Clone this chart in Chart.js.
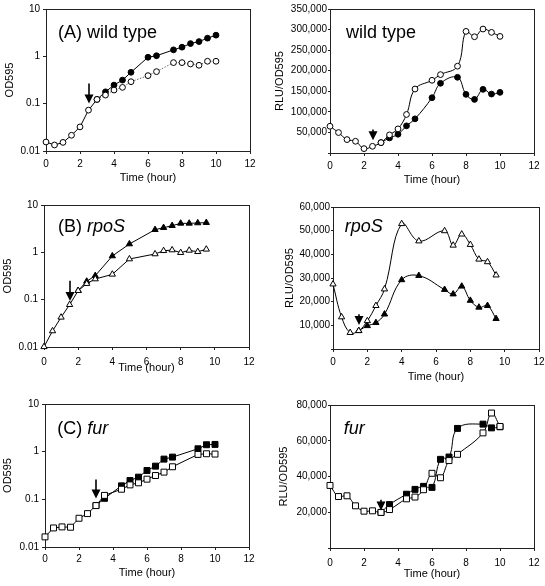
<!DOCTYPE html>
<html><head><meta charset="utf-8">
<script src="https://cdn.jsdelivr.net/npm/chart.js@4.4.0/dist/chart.umd.min.js"></script>
<style>
html,body{margin:0;padding:0;background:#fff;overflow:hidden;width:545px;height:586px;position:relative;}
canvas{position:absolute;}
</style></head><body>
<canvas id="cAL"></canvas><canvas id="cAR"></canvas>
<canvas id="cBL"></canvas><canvas id="cBR"></canvas>
<canvas id="cCL"></canvas><canvas id="cCR"></canvas>
<script>
// ---------- data ----------
// (A) wild type, OD595
const timeA_open = [0,0.5,1,1.5,2,2.5,3,3.5,4,4.5,5,6,6.5,7.5,8,8.5,9,9.5,10];
const odA_open   = [0.0155,0.0134,0.0152,0.0215,0.0323,0.073,0.123,0.152,0.194,0.221,0.291,0.391,0.475,0.737,0.737,0.69,0.647,0.787,0.787];
const timeA_fill = [3,3.5,4,4.5,5,6,6.5,7.5,8,8.5,9,9.5,10];
const odA_fill   = [0.123,0.178,0.247,0.315,0.46,0.957,1.03,1.37,1.56,1.86,2.05,2.42,2.8];
// wild type, RLU/OD595
const timeAR_open = [0,0.5,1,1.5,2,2.5,3,3.5,4,4.5,5,6,6.5,7.5,8,8.5,9,9.5,10];
const rluA_open   = [65000,49700,32600,28500,10600,16300,25200,44000,58600,93600,155500,176700,190500,211000,295600,282600,301300,293200,283400];
const timeAR_fill = [3,3.5,4,4.5,5,6,6.5,7.5,8,8.5,9,9.5,10];
const rluA_fill   = [25200,36600,45600,66000,83000,134400,169400,184000,142500,130300,154700,143300,147400];
// (B) rpoS, OD595
const timeB_open = [0,0.5,1,1.5,2,2.5,3,4,5,6.5,7,7.5,8,8.5,9,9.5];
const odB_open   = [0.0101,0.0218,0.0424,0.0784,0.155,0.218,0.273,0.343,0.723,0.923,1.08,1.12,0.984,1.1,1.03,1.16];
const timeB_fill = [2,2.5,3,4,5,6.5,7,7.5,8,8.5,9,9.5];
const odB_fill   = [0.155,0.244,0.321,0.837,1.5,3.01,3.32,3.66,4.1,4.1,4.17,4.24];
// rpoS, RLU/OD595
const timeBR_open = [0,0.5,1,1.5,2,2.5,3,4,5,6.5,7,7.5,8,8.5,9,9.5];
const rluB_open   = [27400,13500,6900,7700,11900,18300,25300,52900,45600,49900,43800,48500,44100,37900,36800,31200];
const timeBR_fill = [1.5,2,2.5,3,4,5,6.5,7,7.5,8,8.5,9,9.5];
const rluB_fill   = [7700,9800,11100,14700,29200,31000,25100,23200,26500,20500,17600,18300,12800];
// (C) fur, OD595
const timeC_open = [0,0.5,1,1.5,2,2.5,3,3.5,4.5,5,5.5,6,6.5,7,7.5,9,9.5,10];
const odC_open   = [0.0163,0.0251,0.0264,0.026,0.0401,0.0502,0.074,0.121,0.163,0.201,0.222,0.265,0.316,0.372,0.482,0.875,0.904,0.89];
const timeC_fill = [3,3.5,4.5,5,5.5,6,6.5,7,7.5,9,9.5,10];
const odC_fill   = [0.074,0.105,0.192,0.248,0.292,0.403,0.497,0.698,0.769,1.15,1.397,1.42];
// fur, RLU/OD595
const timeCR_open = [0,0.5,1,1.5,2,2.5,3,3.5,4.5,5,5.5,6,6.5,7,7.5,9,9.5,10];
const rluC_open   = [35000,28800,29200,23600,20600,20800,19900,21500,27500,28500,32600,41800,39300,48900,52400,64400,75500,68000];
const timeCR_fill = [3,3.5,4.5,5,5.5,6,6.5,7,7.5,9,9.5,10];
const rluC_fill   = [19900,24300,30100,32800,34500,33900,49600,50900,66900,69300,67200,67800];
// arrows (time of addition), order: AL, AR, BL, BR, CL, CR
const arrowTime = [2.5, 2.5, 1.5, 1.5, 3, 3];
const arrowTop  = [0.268, 57000, 0.252, 14700, 0.261, 27000];
const arrowTip  = [0.101, 31000, 0.094, 10100, 0.104, 21000];
// axis ticks
const timeTicks = [0, 12, 2];
const odRange = [0.01, 10];
const rluMaxA = 350000, rluStepA = 50000;
const rluMaxB = 60000,  rluStepB = 10000;
const rluMaxC = 80000,  rluStepC = 20000;

// ---------- drawing ----------
const FONT = '"Liberation Sans", Arial, Helvetica, sans-serif';
const INK = '#222';
function pts(xs, ys){ return xs.map((x,i)=>({x:x, y:ys[i]})); }

function makePanel(cfg){
  const cv = document.getElementById(cfg.id);
  cv.width = cfg.box.w; cv.height = cfg.box.h;
  cv.style.left = cfg.box.x + 'px'; cv.style.top = cfg.box.y + 'px';
  const L = cfg.area.l - cfg.box.x, T = cfg.area.t - cfg.box.y,
        R = cfg.area.r - cfg.box.x, B = cfg.area.b - cfg.box.y;
  const isLog = cfg.log;
  const yScale = isLog ? {
    type:'logarithmic', min: odRange[0], max: odRange[1],
    afterBuildTicks: s => { s.ticks = s.ticks.filter(t => { const l = Math.log10(t.value); return Math.abs(l - Math.round(l)) < 1e-6; }); },
    ticks:{ color:'#000', font:{family:FONT,size:10}, padding:3, autoSkip:false,
      callback: v => { const n = Number(Number(v).toPrecision(1)); return String(n); } },
  } : {
    type:'linear', min:0, max: cfg.ymax,
    ticks:{ stepSize: cfg.ystep, color:'#000', font:{family:FONT,size:10}, padding:1, autoSkip:false,
      callback: v => v === 0 ? '' : Number(v).toLocaleString('en-US') },
  };
  yScale.position = 'left';
  yScale.grid = { drawOnChartArea:false, drawTicks:true, tickLength: isLog ? 3 : 2, color: INK };
  yScale.border = { color: INK, width: 1 };
  yScale.title = { display:true, text: cfg.ytitle, color:'#000', font:{family:FONT,size:11}, padding:{top:cfg.ytPad, bottom:0} };
  yScale.afterFit = s => { s.width = L; s.paddingTop = 0; s.paddingBottom = 0; };

  const xScale = {
    type:'linear', position:'bottom', min: timeTicks[0], max: timeTicks[1],
    ticks:{ stepSize: timeTicks[2], color:'#000', font:{family:FONT,size:10}, padding: cfg.xtPadTick, maxRotation:0, autoSkip:false },
    grid:{ drawOnChartArea:false, drawTicks:true, tickLength:3, color: INK },
    border:{ color: INK, width:1 },
    title:{ display:true, text:'Time (hour)', color:'#000', font:{family:FONT,size:11}, padding:{top:0, bottom: cfg.xtPad} },
    afterFit: s => { s.height = cfg.box.h - B; s.paddingLeft = 0; s.paddingRight = 0; }
  };

  const tension = cfg.smooth ? 0.4 : 0;
  const openDs = {
    data: pts(cfg.openX, cfg.openY), borderColor:'#000', borderWidth:1,
    pointStyle: cfg.marker, pointRadius: cfg.radius, pointBackgroundColor:'#fff',
    pointBorderColor:'#000', pointBorderWidth:1, tension: tension, clip:false, fill:false
  };
  if (cfg.dottedFrom !== undefined) {
    openDs.segment = {
      borderDash: c => c.p0.parsed.x >= cfg.dottedFrom ? [1.5,1.5] : undefined,
      borderColor: c => c.p0.parsed.x >= cfg.dottedFrom ? '#666' : '#000'
    };
  }
  const fillDs = {
    data: pts(cfg.fillX, cfg.fillY), borderColor:'#000', borderWidth:1,
    pointStyle: cfg.marker, pointRadius: cfg.radius, pointBackgroundColor:'#000',
    pointBorderColor:'#000', pointBorderWidth:1, tension: tension, clip:false, fill:false
  };

  const deco = {
    id:'deco'+cfg.id,
    beforeDatasetsDraw(chart){
      const a = chart.chartArea, ctx = chart.ctx;
      ctx.save(); ctx.strokeStyle = INK; ctx.lineWidth = 1;
      ctx.strokeRect(Math.round(a.left)+0.5, Math.round(a.top)+0.5, Math.round(a.right-a.left), Math.round(a.bottom-a.top));
      ctx.restore();
    },
    afterDatasetsDraw(chart){
      const ctx = chart.ctx, xs = chart.scales.x, ys = chart.scales.y;
      const i = cfg.arrow;
      const x = Math.round(xs.getPixelForValue(arrowTime[i]));
      const y0 = ys.getPixelForValue(arrowTop[i]), y1 = ys.getPixelForValue(arrowTip[i]);
      ctx.save(); ctx.fillStyle = '#000'; ctx.strokeStyle = '#000'; ctx.lineWidth = 1.6;
      ctx.beginPath(); ctx.moveTo(x, y0); ctx.lineTo(x, y1 - 7); ctx.stroke();
      ctx.beginPath(); ctx.moveTo(x - 4.5, y1 - 9); ctx.lineTo(x + 4.5, y1 - 9); ctx.lineTo(x, y1); ctx.closePath(); ctx.fill();
      ctx.restore();
    },
    afterDraw(chart){
      const ctx = chart.ctx, a = chart.chartArea;
      let x = a.left + cfg.label.dx; const y = a.top + cfg.label.dy;
      ctx.save(); ctx.fillStyle = '#000'; ctx.textBaseline = 'alphabetic'; ctx.textAlign = 'left';
      cfg.label.parts.forEach(p => {
        ctx.font = (p.italic ? 'italic ' : '') + '18px ' + FONT;
        ctx.fillText(p.text, x, y);
        x += ctx.measureText(p.text).width;
      });
      ctx.restore();
    }
  };

  return new Chart(cv, {
    type:'line',
    data:{ datasets:[openDs, fillDs] },
    options:{
      responsive:false, animation:false, devicePixelRatio:1,
      layout:{ padding:{ left:0, top:T, right: cfg.box.w - R, bottom:0 } },
      plugins:{ legend:{display:false}, tooltip:{enabled:false} },
      scales:{ x: xScale, y: yScale }
    },
    plugins:[deco]
  });
}

makePanel({ id:'cAL', box:{x:0,y:0,w:272,h:195}, area:{l:46,t:9,r:250,b:151}, log:true,
  ytitle:'OD595', ytPad:3, xtPad:10.5, xtPadTick:4,
  openX:timeA_open, openY:odA_open, fillX:timeA_fill, fillY:odA_fill,
  marker:'circle', radius:2.9, smooth:false, dottedFrom:3, arrow:0,
  label:{dx:12, dy:28.5, parts:[{text:'(A) wild type'}]} });

makePanel({ id:'cAR', box:{x:272,y:0,w:273,h:195}, area:{l:330,t:9,r:534,b:153}, log:false,
  ymax:rluMaxA, ystep:rluStepA, ytitle:'RLU/OD595', ytPad:1.5, xtPad:8.4, xtPadTick:4,
  openX:timeAR_open, openY:rluA_open, fillX:timeAR_fill, fillY:rluA_fill,
  marker:'circle', radius:2.9, smooth:true, arrow:1,
  label:{dx:16, dy:28.5, parts:[{text:'wild type'}]} });

makePanel({ id:'cBL', box:{x:0,y:195,w:272,h:195}, area:{l:44,t:205,r:249,b:347}, log:true,
  ytitle:'OD595', ytPad:1.5, xtPad:15.5, xtPadTick:6,
  openX:timeB_open, openY:odB_open, fillX:timeB_fill, fillY:odB_fill,
  marker:'triangle', radius:3.6, smooth:false, arrow:2,
  label:{dx:14, dy:27.3, parts:[{text:'(B) '},{text:'rpoS', italic:true}]} });

makePanel({ id:'cBR', box:{x:272,y:195,w:273,h:195}, area:{l:333,t:207,r:539,b:349}, log:false,
  ymax:rluMaxB, ystep:rluStepB, ytitle:'RLU/OD595', ytPad:11, xtPad:6.7, xtPadTick:4,
  openX:timeBR_open, openY:rluB_open, fillX:timeBR_fill, fillY:rluB_fill,
  marker:'triangle', radius:3.6, smooth:true, arrow:3,
  label:{dx:11.7, dy:25.3, parts:[{text:'rpoS', italic:true}]} });

makePanel({ id:'cCL', box:{x:0,y:390,w:272,h:196}, area:{l:45,t:404,r:249,b:547}, log:true,
  ytitle:'OD595', ytPad:1.5, xtPad:6, xtPadTick:3,
  openX:timeC_open, openY:odC_open, fillX:timeC_fill, fillY:odC_fill,
  marker:'rect', radius:4.2, smooth:false, arrow:4,
  label:{dx:12.3, dy:30.3, parts:[{text:'(C) '},{text:'fur', italic:true}]} });

makePanel({ id:'cCR', box:{x:272,y:390,w:273,h:196}, area:{l:330,t:405,r:534,b:548}, log:false,
  ymax:rluMaxC, ystep:rluStepC, ytitle:'RLU/OD595', ytPad:5, xtPad:5, xtPadTick:6,
  openX:timeCR_open, openY:rluC_open, fillX:timeCR_fill, fillY:rluC_fill,
  marker:'rect', radius:4.2, smooth:true, arrow:5,
  label:{dx:13.7, dy:29.3, parts:[{text:'fur', italic:true}]} });
</script>
</body></html>
